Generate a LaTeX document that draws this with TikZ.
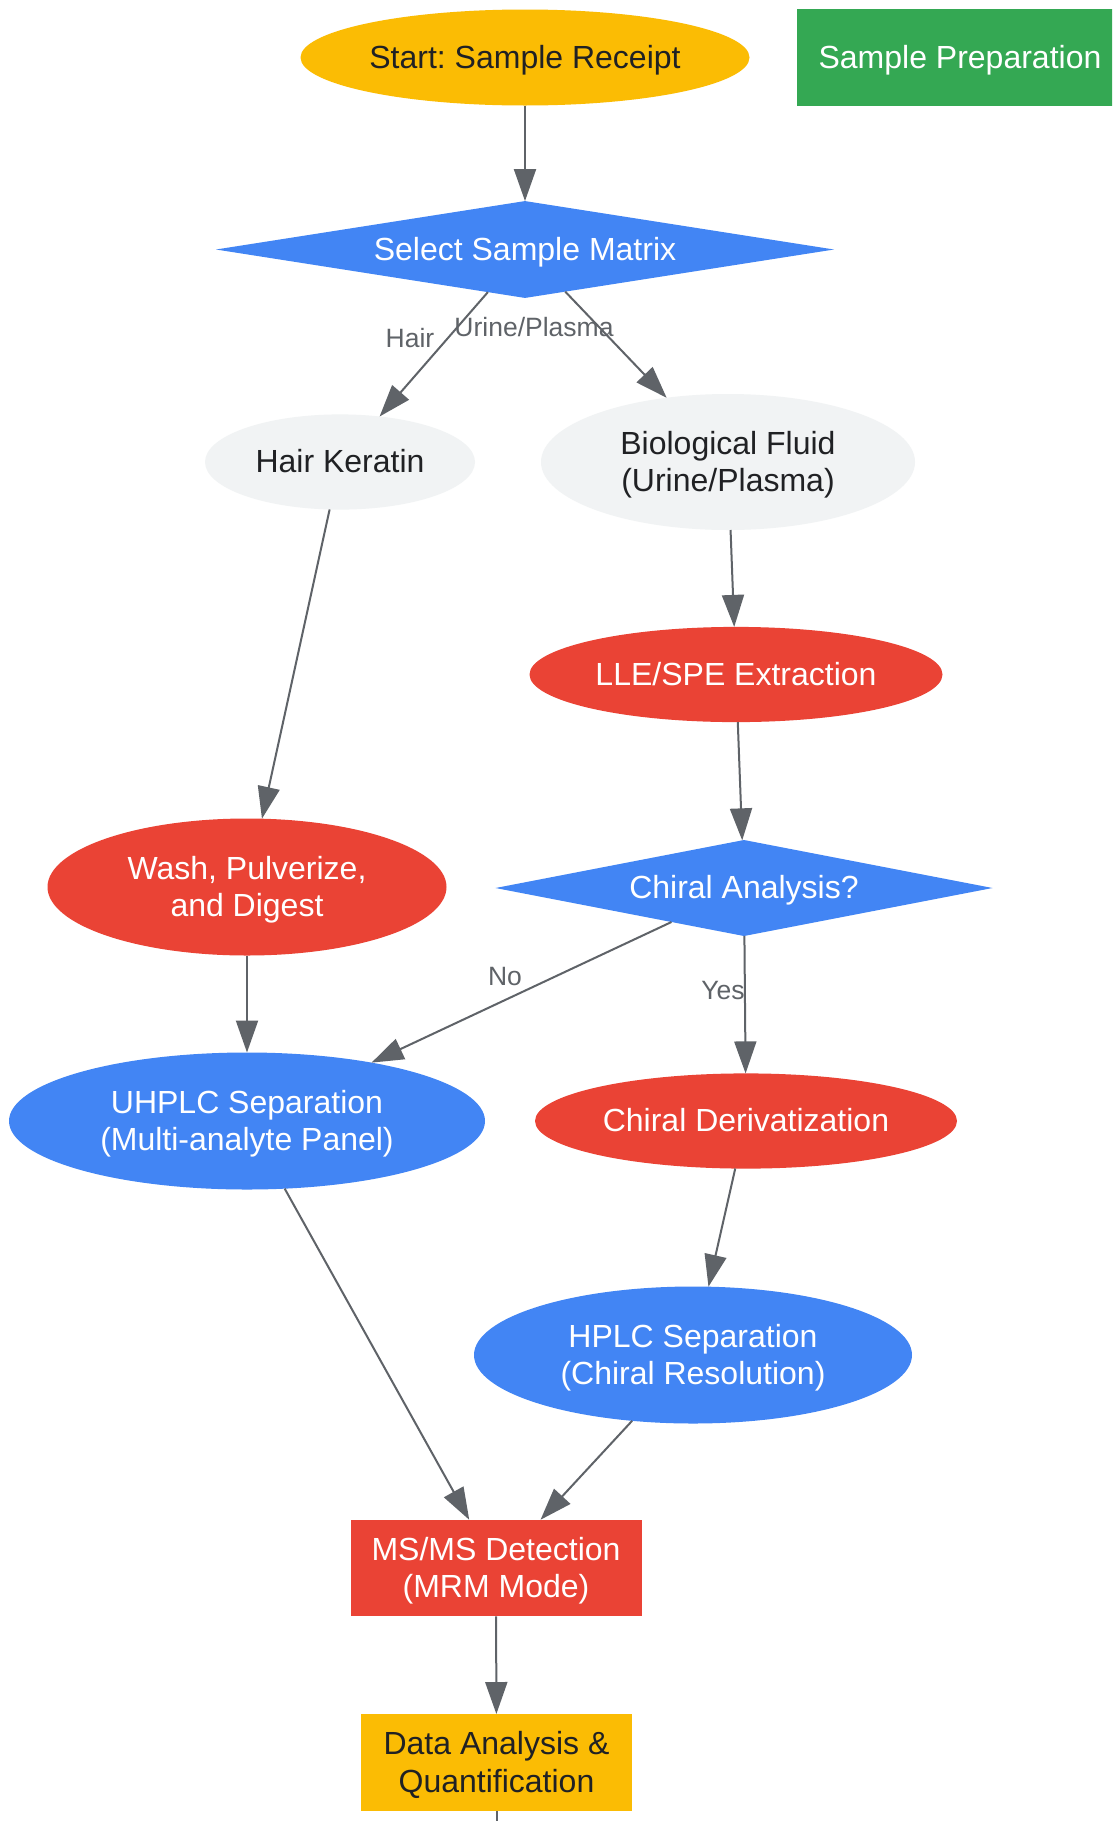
\documentclass[tikz,border=0pt]{standalone}
\usepackage{fontspec}
\setmainfont{Liberation Sans}
\usetikzlibrary{shapes.geometric,arrows.meta}
\definecolor{gyellow}{HTML}{FBBC04}
\definecolor{ggreen}{HTML}{34A853}
\definecolor{gblue}{HTML}{4285F4}
\definecolor{gred}{HTML}{EA4335}
\definecolor{glight}{HTML}{F1F3F4}
\definecolor{gdark}{HTML}{202124}
\definecolor{ggrey}{HTML}{5F6368}
\newcommand\lstrut{\rule[-7.4pt]{0pt}{36.4pt}}
\frenchspacing
\begin{document}
\begin{tikzpicture}[x=1pt,y=-1pt,
  base/.style={inner sep=0pt, outer sep=0pt, draw=none, align=center, font=\fontsize{32}{37.5}\selectfont\frenchspacing},
  ell/.style={base, ellipse},
  dia/.style={base, diamond, aspect=5, fill=gblue, text=white},
  box/.style={base, rectangle},
  conn/.style={draw=ggrey, line width=2pt, -{Triangle[length=32pt,width=22pt]}},
  plainconn/.style={draw=ggrey, line width=2pt},
  elabel/.style={inner sep=0pt, text=ggrey, font=\fontsize{26.5}{30}\selectfont}]
\clip (0,0) rectangle (1112,1821);
\fill[white] (0,0) rectangle (1112,1821);

% nodes
\node[ell, fill=gyellow, text=gdark, minimum width=449, minimum height=96] (start) at (525,57.5) {\lstrut Start: Sample Receipt};
\node[box, fill=ggreen, text=white, minimum width=326, minimum height=97] (prep) at (960,57.5) {\lstrut Sample Preparation};
\node[dia, minimum width=618, minimum height=95.4] (select) at (525,249.5) {\lstrut Select Sample Matrix};
\node[ell, fill=glight, text=gdark, minimum width=270, minimum height=95.2] (hair) at (340,462) {\lstrut Hair Keratin};
\node[ell, fill=glight, text=gdark, minimum width=374, minimum height=136] (fluid) at (728,462) {\lstrut Biological Fluid\\\lstrut (Urine/Plasma)};
\node[ell, fill=gred, text=white, minimum width=413, minimum height=95.2] (lle) at (736,674.5) {\lstrut LLE/SPE Extraction};
\node[dia, minimum width=497, minimum height=96] (chiral) at (744,888) {\lstrut Chiral Analysis?};
\node[ell, fill=gred, text=white, minimum width=399, minimum height=137] (wash) at (247,887) {\lstrut Wash, Pulverize,\\\lstrut and Digest};
\node[ell, fill=gblue, text=white, minimum width=476, minimum height=137] (uhplc) at (247,1121) {\lstrut UHPLC Separation\\\lstrut (Multi-analyte Panel)};
\node[ell, fill=gred, text=white, minimum width=422, minimum height=95.2] (deriv) at (746,1121) {\lstrut Chiral Derivatization};
\node[ell, fill=gblue, text=white, minimum width=438, minimum height=137] (hplc) at (693,1355) {\lstrut HPLC Separation\\\lstrut (Chiral Resolution)};
\node[box, fill=gred, text=white, minimum width=291, minimum height=96.5] (msms) at (496,1568) {\lstrut MS/MS Detection\\\lstrut (MRM Mode)};
\node[box, fill=gyellow, text=gdark, minimum width=271, minimum height=97] (data) at (496.5,1762.5) {\lstrut Data Analysis \&\\\lstrut Quantification};
\coordinate (below) at (496.5,1860);

% connectors
\draw[conn] (start) -- (select);
\draw[conn] (select) -- (hair);
\draw[conn] (select) -- (fluid);
\draw[conn] (hair) -- (wash);
\draw[conn] (fluid) -- (lle);
\draw[conn] (lle) -- (chiral);
\draw[conn] (chiral) -- (uhplc);
\draw[conn] (chiral) -- (deriv);
\draw[conn] (wash) -- (uhplc);
\draw[conn] (uhplc) -- (msms);
\draw[conn] (deriv) -- (hplc);
\draw[conn] (hplc) -- (msms);
\draw[conn] (msms) -- (data);
\draw[plainconn] (data) -- (below);

% edge labels
\node[elabel] (lhair) at (410,338) {Hair};
\node[elabel] (lurine) at (534,327) {Urine/Plasma};
\node[elabel] (lno) at (505,977) {No};
\node[elabel] (lyes) at (723,990) {Yes};
\end{tikzpicture}
\end{document}
